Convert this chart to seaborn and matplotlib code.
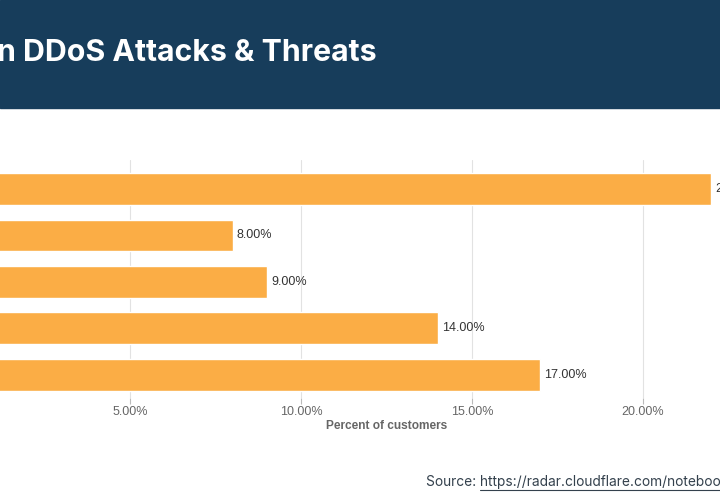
import matplotlib.pyplot as plt
import matplotlib.patches as mpatches
import seaborn as sns
import pandas as pd

# values (category names are cut off in the image)
categories = ['Group A', 'Group B', 'Group C', 'Group D', 'Group E']
percent = [22.0, 8.0, 9.0, 14.0, 17.0]
ticks = [5, 10, 15, 20]
tick_labels = ['5.00%', '10.00%', '15.00%', '20.00%']

df = pd.DataFrame({'category': categories, 'percent': percent})

sns.set_theme(style='white')
plt.rcParams['font.family'] = ['Liberation Sans', 'DejaVu Sans']

fig = plt.figure(figsize=(7.2, 5), dpi=100)

# header band
fig.patches.append(mpatches.Rectangle((0, 1 - 108 / 500), 1, 108 / 500,
                                      transform=fig.transFigure,
                                      color='#173d5b', zorder=0))
fig.text(377 / 720, 1 - 53 / 500, 'n DDoS Attacks & Threats', ha='right', va='center',
         color='white', fontsize=21.8, fontweight='bold', family=['Inter', 'DejaVu Sans'])

ax = fig.add_axes([-41 / 720, 102 / 500, 855 / 720, 238 / 500])
sns.barplot(data=df, x='percent', y='category', orient='h', color='#fbad45',
            width=0.68, saturation=1, ax=ax, zorder=2)

ax.set_xlim(0, 25)
ax.set_ylim(4.5, -0.62)
ax.set_xticks(ticks)
ax.set_xticklabels(tick_labels)
ax.tick_params(axis='x', length=4, width=0.8, color='#bbbbbb', labelsize=9,
               labelcolor='#666666', pad=2, bottom=True)
# category labels sit off the left edge in the reference
ax.set_yticklabels([])
ax.tick_params(axis='y', length=0)
ax.grid(axis='x', color='#e2e2e2', linewidth=0.8, zorder=0)
ax.set_axisbelow(True)
for s in ax.spines.values():
    s.set_visible(False)
ax.set_ylabel('')
ax.set_xlabel('Percent of customers', fontsize=8.6, fontweight='bold', color='#666666',
              labelpad=1)

for i, v in enumerate(percent):
    ax.text(v + 0.12, i, f'{v:.2f}%', va='center', ha='left', fontsize=9, color='#333333')

# source line with underlined link
src = fig.text(426 / 720, 1 - 482 / 500, 'Source: ', ha='left', va='center',
               fontsize=9.9, color='#34414d', family=['Inter', 'DejaVu Sans'])
fig.canvas.draw()
r = fig.canvas.get_renderer()
bb = src.get_window_extent(r)
link = fig.text(bb.x1 / 720, 1 - 482 / 500, 'https://radar.cloudflare.com/notebooks',
                ha='left', va='center', fontsize=9.9, color='#34414d',
                family=['Inter', 'DejaVu Sans'])
fig.canvas.draw()
lb = link.get_window_extent(r)
fig.add_artist(plt.Line2D([lb.x0 / 720, lb.x1 / 720], [(lb.y0 - 1) / 500] * 2,
                          transform=fig.transFigure, color='#34414d', linewidth=0.8))

fig.savefig('out.png', dpi=100)
